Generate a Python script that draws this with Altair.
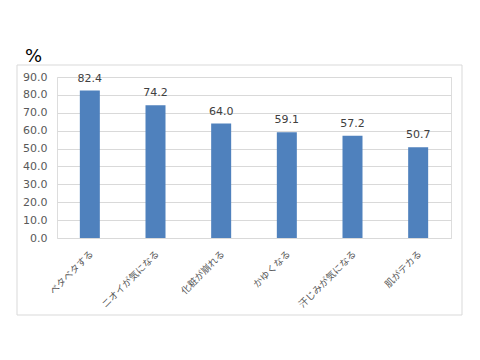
import altair as alt
import pandas as pd

categories = ["ベタベタする", "ニオイが気になる", "化粧が崩れる", "かゆくなる", "汗じみが気になる", "肌がテカる"]
values = [82.4, 74.2, 64.0, 59.1, 57.2, 50.7]
y_ticks = [0, 10, 20, 30, 40, 50, 60, 70, 80, 90]
unit_label = ["%"]

df = pd.DataFrame({"cat": categories, "val": values})

W, H = 394, 161

xenc = alt.X("cat:N", sort=categories, title=None,
             scale=alt.Scale(paddingInner=0, paddingOuter=0),
             axis=alt.Axis(labelAngle=-45, labelAlign="right", labelBaseline="middle",
                           labelPadding=14, labelOffset=2, ticks=False, domain=False,
                           labelFont="Noto Sans CJK JP", labelFontSize=9.5,
                           labelColor="#595959", labelLimit=200, labelOverlap=False))
yenc = alt.Y("val:Q", title=None,
             scale=alt.Scale(domain=[0, 90], nice=False),
             axis=alt.Axis(values=y_ticks, format=".1f", ticks=False, domain=False,
                           gridColor="#d9d9d9", labelPadding=10, labelOverlap=False,
                           labelFont="DejaVu Sans", labelFontSize=11,
                           labelColor="#595959"))

border = alt.Chart(pd.DataFrame({"a": [0]})).mark_rect(
    fill="white", fillOpacity=0, stroke="#d9d9d9", strokeWidth=1
).encode(x=alt.value(-40), x2=alt.value(405), y=alt.value(-12), y2=alt.value(238))

bars = alt.Chart(df).mark_bar(size=20, color="#4f81bd").encode(x=xenc, y=yenc)

labels = alt.Chart(df).mark_text(
    baseline="bottom", dy=-7, font="DejaVu Sans", fontSize=11, color="#404040"
).encode(x=xenc, y=yenc, text=alt.Text("val:Q", format=".1f"))

unit = alt.Chart(pd.DataFrame({"t": unit_label})).mark_text(
    align="left", baseline="alphabetic", font="DejaVu Sans", fontSize=18, color="#000000"
).encode(x=alt.value(-32), y=alt.value(-15), text="t:N")

chart = alt.layer(border, bars, labels, unit).properties(
    width=W, height=H,
    autosize=alt.AutoSizeParams(type="none"),
    padding={"left": 49, "top": 69, "right": 20, "bottom": 100},
).configure_view(stroke=None).configure(background="white")

chart.save("out.html", embed_options={"renderer": "svg", "actions": False})
